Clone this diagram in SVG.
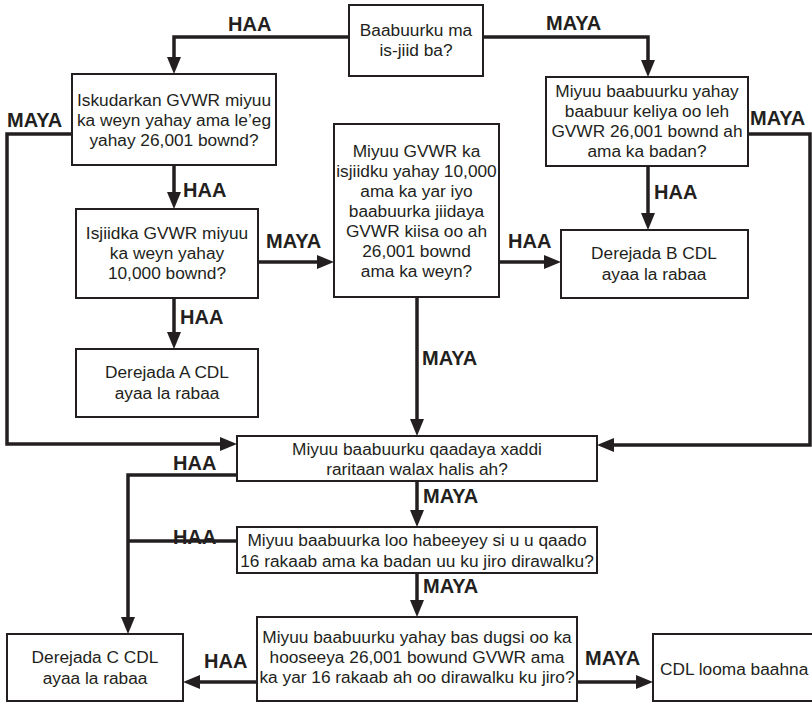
<svg xmlns="http://www.w3.org/2000/svg" width="812" height="703" viewBox="0 0 812 703">
<defs>
<style>
.box{fill:#fff;stroke:#231f20;stroke-width:2}
.t{font-family:"Liberation Sans",Arial,sans-serif;font-size:17.3px;fill:#231f20;text-anchor:middle}
.l{font-family:"Liberation Sans",Arial,sans-serif;font-size:20px;font-weight:bold;fill:#231f20}
.c{fill:none;stroke:#231f20;stroke-width:3.5}
</style>
<marker id="ah" markerUnits="userSpaceOnUse" markerWidth="17" markerHeight="14" refX="5" refY="7" orient="auto">
<path d="M0,0 L17,7 L0,14 z" fill="#231f20"/>
</marker>
</defs>
<rect width="812" height="703" fill="#fff"/>
<g id="connectors">
<path class="c" d="M349,37 H174 V62" marker-end="url(#ah)"/>
<path class="c" d="M483,37 H648 V65" marker-end="url(#ah)"/>
<path class="c" d="M72,134 H7 V444 H225" marker-end="url(#ah)"/>
<path class="c" d="M174,165 V197" marker-end="url(#ah)"/>
<path class="c" d="M174,298 V337" marker-end="url(#ah)"/>
<path class="c" d="M258,262 H322" marker-end="url(#ah)"/>
<path class="c" d="M499,262 H549" marker-end="url(#ah)"/>
<path class="c" d="M648,166 V218" marker-end="url(#ah)"/>
<path class="c" d="M748,134 H810 V445 H609" marker-end="url(#ah)"/>
<path class="c" d="M417,297 V424" marker-end="url(#ah)"/>
<path class="c" d="M237,475 H128 V622" marker-end="url(#ah)"/>
<path class="c" d="M237,541 H128"/>
<path class="c" d="M417,481 V515" marker-end="url(#ah)"/>
<path class="c" d="M417,573 V605" marker-end="url(#ah)"/>
<path class="c" d="M257,682 H195" marker-end="url(#ah)"/>
<path class="c" d="M577,682 H641" marker-end="url(#ah)"/>
</g>
<g id="labels">
<text class="l" x="228" y="31">HAA</text>
<text class="l" x="546" y="30">MAYA</text>
<text class="l" x="7" y="127">MAYA</text>
<text class="l" x="183" y="197">HAA</text>
<text class="l" x="750" y="125">MAYA</text>
<text class="l" x="654" y="199">HAA</text>
<text class="l" x="266" y="248">MAYA</text>
<text class="l" x="180" y="324">HAA</text>
<text class="l" x="508" y="248">HAA</text>
<text class="l" x="422" y="365">MAYA</text>
<text class="l" x="173" y="470">HAA</text>
<text class="l" x="423" y="503">MAYA</text>
<text class="l" x="173" y="544">HAA</text>
<text class="l" x="423" y="593">MAYA</text>
<text class="l" x="204" y="668">HAA</text>
<text class="l" x="585" y="665">MAYA</text>
</g>
<g id="n1"><rect class="box" x="349" y="5" width="134" height="71"/>
<text class="t" x="416" y="36">Baabuurku ma</text><text class="t" x="416" y="56">is-jiid ba?</text></g>
<g id="n2"><rect class="box" x="72" y="74" width="204" height="91"/>
<text class="t" x="174" y="106">Iskudarkan GVWR miyuu</text><text class="t" x="174" y="126">ka weyn yahay ama le’eg</text><text class="t" x="174" y="146">yahay 26,001 bownd?</text></g>
<g id="n3"><rect class="box" x="546" y="77" width="202" height="89"/>
<text class="t" x="647" y="97">Miyuu baabuurku yahay</text><text class="t" x="647" y="117">baabuur keliya oo leh</text><text class="t" x="647" y="137">GVWR 26,001 bownd ah</text><text class="t" x="647" y="157">ama ka badan?</text></g>
<g id="n4"><rect class="box" x="76" y="209" width="182" height="89"/>
<text class="t" x="167" y="239">Isjiidka GVWR miyuu</text><text class="t" x="167" y="259">ka weyn yahay</text><text class="t" x="167" y="279">10,000 bownd?</text></g>
<g id="n5"><rect class="box" x="334" y="124" width="165" height="173"/>
<text class="t" x="416.5" y="157">Miyuu GVWR ka</text><text class="t" x="416.5" y="177">isjiidku yahay 10,000</text><text class="t" x="416.5" y="197">ama ka yar iyo</text><text class="t" x="416.5" y="217">baabuurka jiidaya</text><text class="t" x="416.5" y="237">GVWR kiisa oo ah</text><text class="t" x="416.5" y="257">26,001 bownd</text><text class="t" x="416.5" y="277">ama ka weyn?</text></g>
<g id="n6"><rect class="box" x="561" y="230" width="187" height="68"/>
<text class="t" x="654" y="259">Derejada B CDL</text><text class="t" x="654" y="280">ayaa la rabaa</text></g>
<g id="n7"><rect class="box" x="76" y="349" width="182" height="68"/>
<text class="t" x="167" y="378">Derejada A CDL</text><text class="t" x="167" y="399">ayaa la rabaa</text></g>
<g id="n8"><rect class="box" x="237" y="436" width="360" height="45"/>
<text class="t" x="417" y="455">Miyuu baabuurku qaadaya xaddi</text><text class="t" x="417" y="475">raritaan walax halis ah?</text></g>
<g id="n9"><rect class="box" x="237" y="527" width="360" height="46"/>
<text class="t" x="417" y="546">Miyuu baabuurka loo habeeyey si u u qaado</text><text class="t" x="417" y="567">16 rakaab ama ka badan uu ku jiro dirawalku?</text></g>
<g id="n10"><rect class="box" x="257" y="617" width="320" height="84"/>
<text class="t" x="417" y="643">Miyuu baabuurku yahay bas dugsi oo ka</text><text class="t" x="417" y="663">hooseeya 26,001 bowund GVWR ama</text><text class="t" x="417" y="683">ka yar 16 rakaab ah oo dirawalku ku jiro?</text></g>
<g id="n11"><rect class="box" x="7" y="634" width="176" height="67"/>
<text class="t" x="95" y="663">Derejada C CDL</text><text class="t" x="95" y="684">ayaa la rabaa</text></g>
<g id="n12"><rect class="box" x="653" y="634" width="170" height="67"/>
<text class="t" x="660" y="675" style="text-anchor:start">CDL looma baahna</text></g>
</svg>
